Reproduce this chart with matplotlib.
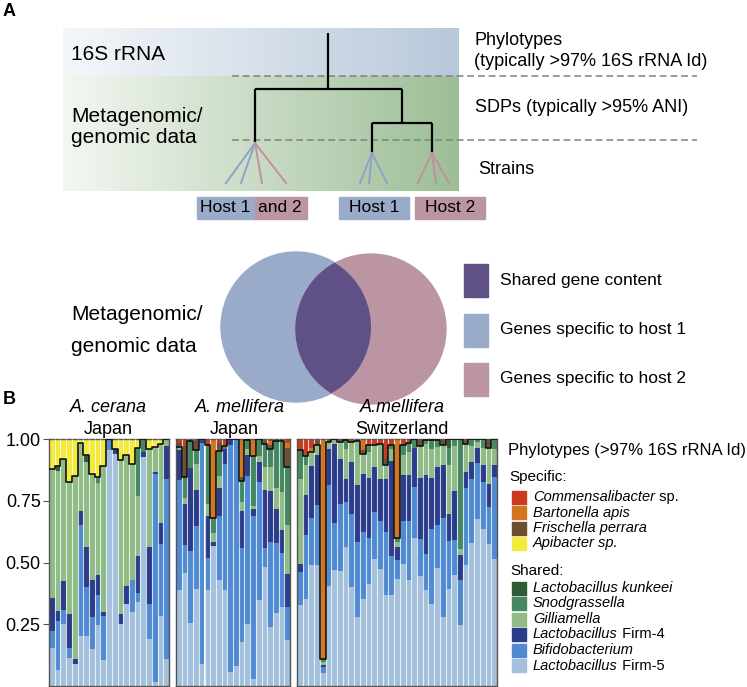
import matplotlib
matplotlib.use("Agg")
import matplotlib.pyplot as plt
import numpy as np
from matplotlib.patches import Rectangle, Circle
from matplotlib.colors import to_rgb

plt.rcParams['font.family'] = ['Liberation Sans', 'DejaVu Sans']

# phylotypes, bottom to top of every stack: (italic part, upright part)
taxa = [("Lactobacillus", " Firm-5"), ("Bifidobacterium", ""),
        ("Lactobacillus", " Firm-4"), ("Gilliamella", ""),
        ("Snodgrassella", ""), ("Lactobacillus kunkeei", ""),
        ("Apibacter sp.", ""), ("Frischella perrara", ""),
        ("Bartonella apis", ""), ("Commensalibacter", " sp.")]
colors = ["#a3c0dc", "#4f8ad2", "#2b3c8b", "#8fbb86", "#448761", "#2d5b33",
          "#f2ea3c", "#6c4f30", "#d3741f", "#c93a20"]

# cumulative top of each layer, per bee
# A. cerana, Japan
cer_f5 = [.154, .066, .253, .114, .088, .203, .202, .151, .248, .107, .955,
          .941, .249, .33, .30, .341, .927, .19, .018, .283, .11]
cer_bifi = [.223, .264, .307, .154, .088, .652, .40, .279, .37, .283, 1.0,
            .941, .249, .33, .43, .375, .927, .334, .858, .575, .838]
cer_f4 = [.355, .303, .424, .29, .11, .709, .563, .428, .448, .298, 1.0,
          .961, .29, .405, .43, .527, .946, .564, .868, .66, .97]
cer_gilli = [.879, .869, .921, .824, .849, .984, .907, .86, .823, .892, 1.0,
             .961, .914, .937, .90, .77, .946, .958, .968, .981, 1.0]
cer_snod = [.879, .869, .921, .824, .849, .984, .907, .86, .846, .892, 1.0,
            .961, .914, .937, .90, .962, 1.0, .958, .968, .981, 1.0]
cer_kunk = [.879, .892, .921, .824, .849, .984, .934, .86, .846, .892, 1.0,
            .961, .914, .937, .90, .962, 1.0, .958, .968, .981, 1.0]
cer_apib = [1.0] * 21

# A. mellifera, Japan
jp_f5 = [.39, .457, .255, .394, .09, .39, .565, .43, .39, .055,
         .08, .18, .25, .03, .35, .48, .24, .295, .32, .185]
jp_bifi = [.835, .569, .547, .648, .985, .52, .565, .69, .90, .975,
           1.0, .56, .85, .69, .825, .56, .585, .58, .54, .32]
jp_f4 = [.955, .738, .884, .795, 1.0, .69, .585, .80, .96, 1.0,
         1.0, .71, .935, .715, .905, .795, .79, .715, .63, .455]
jp_gilli = [.966, .762, .884, .90, 1.0, .735, .62, .85, .96, 1.0,
            1.0, .745, .96, .73, .93, .885, .885, .80, .785, .65]
jp_snod = [.966, .845, .99, .955, 1.0, .977, .68, .953, .97, 1.0,
           1.0, .83, .995, .93, 1.0, .98, .96, .99, .99, .885]
jp_fris = [.985, .97, .99, 1.0, 1.0, .977, .68, .985, .97, 1.0,
           1.0, .845, .995, .93, 1.0, .995, .975, .99, .99, .965]
jp_bart = [.985, .97, .99, 1.0, 1.0, .977, 1.0, .985, .97, 1.0,
           1.0, 1.0, .995, 1.0, 1.0, .995, .99, .99, .99, .985]
jp_comm = [1.0] * 20

# A. mellifera, Switzerland
ch_f5 = [.327, .354, .49, .491, .054, .405, .468, .464, .563, .40, .279, .354,
         .414, .516, .475, .367, .368, .435, .495, .428, .60, .445, .387, .333,
         .478, .279, .394, .45, .246, .49, .58, .675, .634, .576, .516]
ch_bifi = [.462, .613, .68, .734, .077, .812, .66, .738, .745, .698, .583, .623,
           .60, .704, .67, .623, .527, .51, .667, .667, .806, .597, .536, .637,
           .653, .68, .586, .59, .428, .80, .84, .904, .826, .725, .846]
ch_f4 = [.495, .772, .89, .934, .083, .961, .98, .92, .839, .907, .815, .86,
         .842, .887, .839, .84, .91, .563, .853, .853, .964, .842, .853, .842,
         .887, .896, .698, .79, .529, .866, .905, .964, .896, .819, .896]
ch_gilli = [.839, .893, .947, .974, .097, .988, 1.0, .988, .961, .988, .99, .94,
            .947, .974, .981, .893, .96, .583, .935, .947, .964, .972, .981, .961,
            .968, .974, .893, .97, .556, .98, .97, .988, .964, .964, .961]
ch_snod = [.954, .931, .947, .974, .11, .988, 1.0, .988, .995, .988, .99, .94,
           .974, .974, .981, .893, .975, .60, .975, .985, 1.0, .972, .995, .995,
           .995, .974, .964, 1.0, 1.0, .98, 1.0, 1.0, 1.0, .964, 1.0]
ch_kunk = [.954, .931, .947, .974, .11, .988, 1.0, .988, .995, .988, .99, .94,
           .974, .974, .981, .893, .975, .60, .975, .985, 1.0, .972, .995, .995,
           .995, .974, 1.0, 1.0, 1.0, .98, 1.0, 1.0, 1.0, .964, 1.0]
ch_fris = [.954, .931, .947, 1.0, .11, 1.0, 1.0, 1.0, .995, .988, 1.0, .955,
           .974, .974, .981, .925, .975, .60, .975, .985, 1.0, 1.0, 1.0, .995,
           .995, 1.0, 1.0, 1.0, 1.0, 1.0, 1.0, 1.0, 1.0, 1.0, 1.0]
ch_bart = [.954, .931, .965, 1.0, 1.0, 1.0, 1.0, 1.0, .995, .988, 1.0, 1.0,
           .974, .974, .981, .925, .975, 1.0, .975, .985, 1.0, 1.0, 1.0, .995,
           .995, 1.0, 1.0, 1.0, 1.0, 1.0, 1.0, 1.0, 1.0, 1.0, 1.0]
ch_comm = [1.0] * 35

panels = [
    ("A. cerana", "Japan",
     [cer_f5, cer_bifi, cer_f4, cer_gilli, cer_snod, cer_kunk, cer_apib, None, None, None]),
    ("A. mellifera", "Japan",
     [jp_f5, jp_bifi, jp_f4, jp_gilli, jp_snod, jp_snod, None, jp_fris, jp_bart, jp_comm]),
    ("A.mellifera", "Switzerland",
     [ch_f5, ch_bifi, ch_f4, ch_gilli, ch_snod, ch_kunk, None, ch_fris, ch_bart, ch_comm]),
]
panel_boxes = [[49, 120], [176, 114], [297, 200]]  # left, width in px
title_x = [(108, 108), (240, 234.5), (402.5, 401.7)]  # centres of the two title lines

W, H = 747, 687
fig = plt.figure(figsize=(W / 100, H / 100), dpi=100)

# ---------- schematic (panel A) drawn in pixel space ----------
bg = fig.add_axes([0, 0, 1, 1])


def hgrad(x0, x1, y0, y1, c0, c1):
    t = np.linspace(0, 1, 256)[None, :, None]
    img = (1 - t) * np.array(to_rgb(c0)) + t * np.array(to_rgb(c1))
    bg.imshow(img, extent=(x0, x1, y1, y0), aspect='auto', zorder=0)


hgrad(63, 459, 28, 76, "#f5f7fa", "#b8c8da")
hgrad(63, 459, 76, 191, "#f4f7f2", "#9cbe96")
bg.set_xlim(0, W)
bg.set_ylim(H, 0)
bg.axis('off')

for yy in [76, 140]:
    bg.plot([232, 697], [yy, yy], color="#808080", lw=1.1, ls=(0, (4.5, 2.5)), zorder=2)

tree = [([328, 328], [33, 89]), ([255, 402], [89, 89]), ([255, 255], [89, 143]),
        ([402, 402], [89, 123]), ([372, 432], [123, 123]), ([372, 372], [123, 153]),
        ([432, 432], [123, 153])]
for xs, ys in tree:
    bg.plot(xs, ys, color="black", lw=1.6, solid_capstyle='butt', zorder=3)

c_h1, c_h2 = "#8fa3c6", "#c1909f"
fans = [(255, 143, [226, 241], c_h1), (255, 143, [262, 286], c_h2),
        (372, 153, [360, 369, 387], c_h1), (432, 153, [418, 436, 449], c_h2)]
for x0, y0, ends, c in fans:
    for xe in ends:
        bg.plot([x0, xe], [y0, 183], color=c, lw=1.4, zorder=3)

box1, box2 = "#9aaac9", "#bc95a4"
for x0, x1, c in [(197, 255, box1), (255, 307, box2), (339, 409, box1), (415, 485, box2)]:
    bg.add_patch(Rectangle((x0, 197), x1 - x0, 22, color=c, zorder=2))
bg.text(200, 208, "Host 1", fontsize=12.5, va='center', ha='left')
bg.text(258, 208, "and 2", fontsize=12.5, va='center', ha='left')
bg.text(374, 208, "Host 1", fontsize=12.5, va='center', ha='center')
bg.text(450, 208, "Host 2", fontsize=12.5, va='center', ha='center')

bg.text(9, 12, "A", fontsize=13, fontweight='bold', va='center', ha='center')
bg.text(71, 55, "16S rRNA", fontsize=15, va='center')
bg.text(71, 127, "Metagenomic/\ngenomic data", fontsize=15, va='center', linespacing=1.1)
bg.text(474, 51, "Phylotypes\n(typically >97% 16S rRNA Id)", fontsize=13, va='center',
        linespacing=1.25)
bg.text(475, 108, "SDPs (typically >95% ANI)", fontsize=13, va='center')
bg.text(478, 169, "Strains", fontsize=13, va='center')

# venn
c1 = Circle((296, 327), 75, color=box1, zorder=2)
c2 = Circle((371, 329), 75, color=box2, zorder=2)
bg.add_patch(c1)
bg.add_patch(c2)
ov = Circle((371, 329), 75, color="#5f5186", zorder=3)
bg.add_patch(ov)
ov.set_clip_path(c1)
bg.text(71, 314, "Metagenomic/", fontsize=15, va='center')
bg.text(71, 347, "genomic data", fontsize=15, va='center')
venn_leg = [("Shared gene content", "#5f5186"), ("Genes specific to host 1", box1),
            ("Genes specific to host 2", box2)]
for i, (lab, c) in enumerate(venn_leg):
    yc = 280 + 49.5 * i
    bg.add_patch(Rectangle((464, yc - 16), 24, 33, color=c, zorder=2))
    bg.text(500, yc, lab, fontsize=12.5, va='center')

bg.text(9, 400, "B", fontsize=13, fontweight='bold', va='center', ha='center')

# ---------- stacked bars (panel B) ----------
for k, (sp, place, layers) in enumerate(panels):
    left, width = panel_boxes[k]
    ax = fig.add_axes([left / W, 1 / H, width / W, 247 / H])
    n = len(layers[0])
    x = np.arange(n)
    prev = np.zeros(n)
    for tops, c in zip(layers, colors):
        if tops is None:
            continue
        tops = np.array(tops)
        ax.bar(x, tops - prev, bottom=prev, width=1.0, color=c, linewidth=0)
        prev = tops
    ax.vlines(np.arange(n - 1) + 0.5, 0, 1, color="white", lw=0.8, alpha=0.75, zorder=3)
    shared = np.array(layers[5])
    ax.step(np.arange(n + 1) - 0.5, np.r_[shared, shared[-1]], where='post',
            color="#111111", lw=1.2, zorder=4)
    ax.set_xlim(-0.5, n - 0.5)
    ax.set_ylim(0, 1)
    ax.set_xticks([])
    for s in ax.spines.values():
        s.set_color("#555555")
        s.set_linewidth(1.0)
    if k == 0:
        ax.set_yticks([0.25, 0.5, 0.75, 1.0])
        ax.set_yticklabels(["0.25", "0.50", "0.75", "1.00"], fontsize=13)
        ax.tick_params(axis='y', length=4.5, width=0.8, color="#555555", pad=1.5)
    else:
        ax.set_yticks([])
    tx1, tx2 = title_x[k]
    bg.text(tx1, 407, sp, fontsize=13, style='italic', ha='center', va='center')
    bg.text(tx2, 429, place, fontsize=13, ha='center', va='center')

# phylotype legend
bg.text(508, 451, "Phylotypes (>97% 16S rRNA Id)", fontsize=12, va='center')
bg.text(509, 477, "Specific:", fontsize=11, va='center')
bg.text(510, 571, "Shared:", fontsize=11, va='center')
spec_rows = [497, 512.5, 528, 543.5]
shared_rows = [588, 603.5, 619, 634.5, 650, 665.5]
rows = list(zip([9, 8, 7, 6], spec_rows)) + list(zip([5, 4, 3, 2, 1, 0], shared_rows))
for idx, yc in rows:
    bg.add_patch(Rectangle((512, yc - 6.5), 14, 13, color=colors[idx], zorder=2))
    it, up = taxa[idx]
    t1 = bg.text(533, yc, it, fontsize=10.5, style='italic', va='center')
    if up:
        bg.annotate(up, xy=(1, 0), xycoords=t1, va='bottom', ha='left', fontsize=10.5)

fig.savefig("out.png", dpi=100)
